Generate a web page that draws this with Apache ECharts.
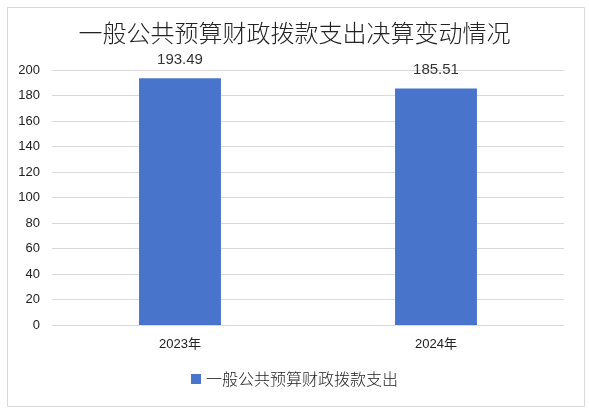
<!DOCTYPE html>
<html>
<head>
<meta charset="utf-8">
<script src="https://cdn.jsdelivr.net/npm/echarts@6/dist/echarts.min.js"></script>
<style>html,body{margin:0;padding:0;background:#fff;}#c{width:589px;height:412px;}</style>
</head>
<body>
<div id="c"></div>
<script>
const categories = ['2023年', '2024年'];
const seriesName = '一般公共预算财政拨款支出';
const values = [193.49, 185.51];
const titleText = '一般公共预算财政拨款支出决算变动情况';

const chart = echarts.init(document.getElementById('c'));
const font = '"Noto Sans CJK SC", "Noto Sans", sans-serif';
const numFont = '"Liberation Sans", "Noto Sans CJK SC", sans-serif';
chart.setOption({
  animation: false,
  backgroundColor: '#fff',
  graphic: [{
    type: 'rect', left: 5, top: 5, shape: { width: 577, height: 399 },
    style: { fill: 'none', stroke: '#d9d9d9', lineWidth: 1 }, silent: true
  }],
  title: {
    text: titleText, left: 'center', top: 16,
    textStyle: { fontFamily: font, fontSize: 24, fontWeight: 300, color: '#222' }
  },
  legend: {
    data: [seriesName], bottom: 20, left: 'center', itemWidth: 10, itemHeight: 10, itemGap: 6,
    icon: 'rect',
    textStyle: { fontFamily: font, fontSize: 16, fontWeight: 300, color: '#222' }
  },
  grid: { left: 52, right: 25, top: 70, bottom: 87, containLabel: false },
  xAxis: {
    type: 'category', data: categories,
    axisLine: { lineStyle: { color: '#d9d9d9' } },
    axisTick: { show: false },
    axisLabel: { fontFamily: numFont, fontSize: 13, color: '#222', margin: 13 }
  },
  yAxis: {
    type: 'value', min: 0, max: 200, interval: 20,
    axisLine: { show: false }, axisTick: { show: false },
    splitLine: { lineStyle: { color: '#d9d9d9' } },
    axisLabel: { fontFamily: numFont, fontSize: 13, color: '#222', margin: 12 }
  },
  series: [{
    name: seriesName, type: 'bar', data: values, barWidth: '32%',
    itemStyle: { color: '#4874cb' },
    label: { show: true, position: 'top', distance: 11, fontFamily: numFont, fontSize: 15, color: '#333' }
  }]
});
</script>
</body>
</html>
